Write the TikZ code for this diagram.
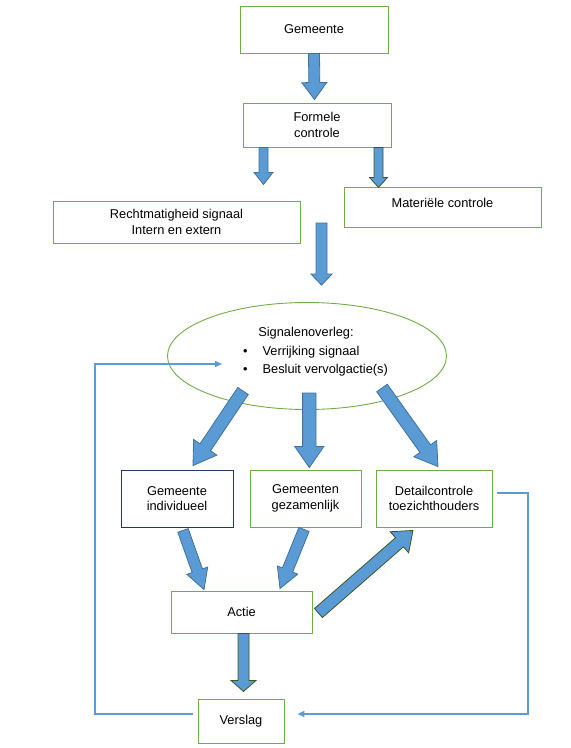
\documentclass[tikz,border=0pt]{standalone}
\usepackage{fontspec}
\setmainfont{Liberation Sans}
\usetikzlibrary{arrows.meta,calc,shapes.geometric}
\definecolor{flowblue}{HTML}{5B9BD5}
\definecolor{flowedge}{HTML}{41719C}
\definecolor{flowgreen}{HTML}{70AD47}
\definecolor{flowdkgreen}{HTML}{385723}
\definecolor{flownavy}{HTML}{1F3864}

% block arrow: [style]{start}{tip}{half shaft}{half head}{head length}
\newcommand\blockarrow[6][]{%
  \coordinate (ba-base) at ($(#3)!#6!(#2)$);
  \draw[barrow,#1] ($(#2)!#4!90:(#3)$) -- ($(ba-base)!#4!90:(#3)$) -- ($(ba-base)!#5!90:(#3)$)
    -- (#3) -- ($(ba-base)!#5!-90:(#3)$) -- ($(ba-base)!#4!-90:(#3)$) -- ($(#2)!#4!-90:(#3)$) -- cycle;
}

\begin{document}
\begin{tikzpicture}[
  x=1pt, y=-1pt,
  box/.style={
    draw=flowgreen, fill=white, line width=0.9pt, inner sep=0pt, align=center,
    font=\fontsize{12.8pt}{15.5pt}\selectfont
  },
  navybox/.style={box, draw=flownavy},
  barrow/.style={fill=flowblue, draw=flowedge, line width=0.8pt, line join=miter},
  greenedge/.style={draw=flowdkgreen},
  fbline/.style={draw=flowblue, line width=1.4pt, -{Triangle[length=7pt,width=6pt]}}
]
  \useasboundingbox (0,0) rectangle (571,748);

  % Top: intake and formal check
  \node[box, minimum width=148pt, minimum height=47pt] (gemeente) at (314,29.5) {Gemeente};
  \node[box, minimum width=148pt, minimum height=44pt] (formele) at (317,125) {Formele\\controle};
  \node[box, minimum width=247pt, minimum height=42pt] (rechtm) at (176.5,222) {Rechtmatigheid signaal\\Intern en extern};
  \node[box, minimum width=197pt, minimum height=40pt, text depth=9pt] (materiele) at (442.5,207) {Materiële controle};

  % Middle: signal meeting
  \node[ellipse, draw=flowgreen, line width=0.9pt, minimum width=279pt, minimum height=107pt, inner sep=0pt] (overleg) at (307,356) {};
  \node[font=\fontsize{12.8pt}{15.5pt}\selectfont, inner sep=0pt] (overlegtxt) at ($(overleg.center)+(8.5,-4)$) {%
    \begin{tabular}{@{}l@{\hspace{15pt}}l@{}}
      \multicolumn{2}{c}{Signalenoverleg:\hspace*{19pt}}\\[3pt]
      \textbullet & Verrijking signaal\\[3pt]
      \textbullet & Besluit vervolgactie(s)
    \end{tabular}};

  % Follow-up routes
  \node[navybox, minimum width=112pt, minimum height=57pt] (individueel) at (177,498.5) {Gemeente\\individueel};
  \node[box, minimum width=111pt, minimum height=57pt] (gezamenlijk) at (305.5,498.5) {Gemeenten\\gezamenlijk};
  \node[box, minimum width=116pt, minimum height=57pt] (detail) at (434,498.5) {Detailcontrole\\toezichthouders};

  % Bottom: action and report
  \node[box, minimum width=141pt, minimum height=42pt] (actie) at (241.5,612) {Actie};
  \node[box, minimum width=86pt, minimum height=44pt] (verslag) at (241,721) {Verslag};

  % Arrow end points
  \coordinate (a1s) at (gemeente.south);
  \coordinate (a1e) at ($(gemeente.south |- formele.north)+(0.5,-3)$);
  \coordinate (a2s) at ($(formele.south)+(-53.5,0)$);
  \coordinate (a2e) at ($(formele.south)+(-53.5,37)$);
  \coordinate (a3s) at ($(formele.south)+(61.5,0)$);
  \coordinate (a3e) at ($(formele.south)+(61.5,40)$);
  \coordinate (a4s) at ($(overleg.north)+(14.5,-79)$);
  \coordinate (a4e) at ($(overleg.north)+(14.5,-17)$);
  \coordinate (a5s) at ($(overleg.center)+(-64,35)$);
  \coordinate (a5e) at ($(individueel.north)+(16,-4)$);
  \coordinate (a6s) at ($(overleg.center)+(2.3,37)$);
  \coordinate (a6e) at ($(gezamenlijk.north)+(3.8,-2)$);
  \coordinate (a7s) at ($(overleg.center)+(75,32)$);
  \coordinate (a7e) at ($(detail.north)+(4,-3)$);
  \coordinate (a8s) at ($(individueel.south)+(6,3)$);
  \coordinate (a8e) at ($(actie.north)+(-37.5,-1)$);
  \coordinate (a9s) at ($(gezamenlijk.south)+(-1.5,2)$);
  \coordinate (a9e) at ($(actie.north)+(38.5,-2)$);
  \coordinate (a10s) at ($(actie.east)+(6,1)$);
  \coordinate (a10e) at ($(detail.south)+(-21,3)$);
  \coordinate (a11s) at ($(actie.south)+(2,0)$);
  \coordinate (a11e) at ($(actie.south)+(2,58)$);

  % Block arrows
  \blockarrow{a1s}{a1e}{5.5pt}{12.5pt}{17pt}
  \blockarrow{a2s}{a2e}{4.5pt}{9.5pt}{12pt}
  \blockarrow[greenedge]{a3s}{a3e}{4.5pt}{9pt}{10pt}
  \blockarrow{a4s}{a4e}{5.5pt}{10.5pt}{11pt}
  \blockarrow{a5s}{a5e}{6.3pt}{14pt}{22pt}
  \blockarrow{a6s}{a6e}{6.7pt}{14.5pt}{21pt}
  \blockarrow{a7s}{a7e}{6.5pt}{14pt}{22pt}
  \blockarrow{a8s}{a8e}{5.5pt}{11pt}{20pt}
  \blockarrow{a9s}{a9e}{5.5pt}{11pt}{20pt}
  \blockarrow[greenedge]{a10s}{a10e}{6pt}{14pt}{18pt}
  \blockarrow[greenedge]{a11s}{a11e}{5.5pt}{12.5pt}{11pt}

  % Feedback lines
  \coordinate (verslagout) at ([xshift=-5pt,yshift=7pt]verslag.west);
  \coordinate (lbend) at (95,714);
  \coordinate (overlegin) at ([xshift=-85pt,yshift=-8pt]overleg.center);
  \draw[fbline] (verslagout) -- (lbend) |- (overlegin);

  \coordinate (detailout) at ([xshift=5pt,yshift=5.5pt]detail.east);
  \coordinate (rbend) at (528,714);
  \coordinate (verslagin) at ([xshift=13pt,yshift=7pt]verslag.east);
  \draw[fbline] (detailout) -| (rbend) -- (verslagin);
\end{tikzpicture}
\end{document}
